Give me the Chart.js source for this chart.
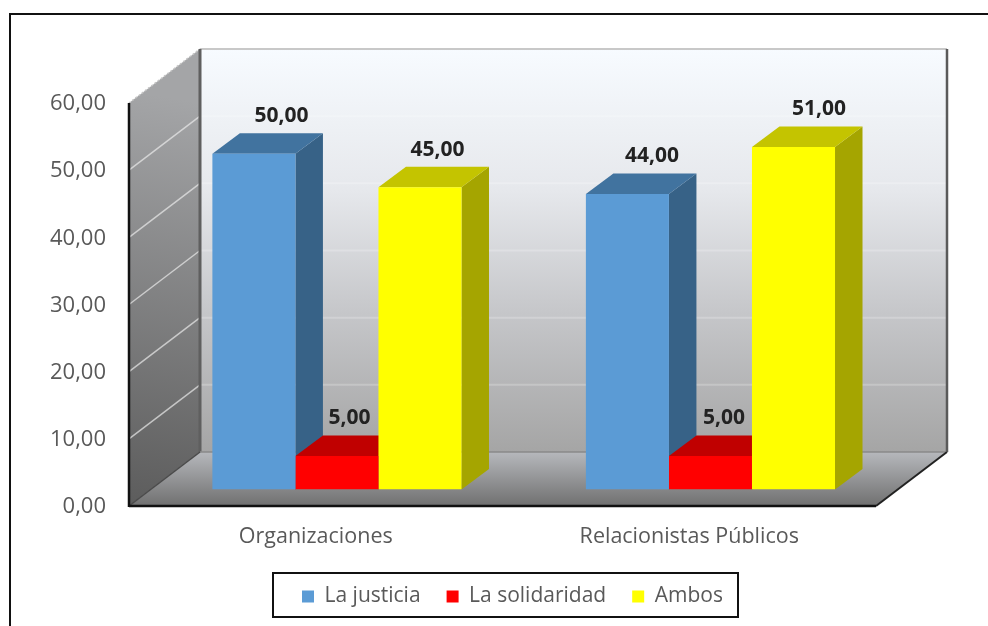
<!DOCTYPE html>
<html>
    <head>
        <meta charset="utf-8">
        <title>La justicia y la solidaridad</title>
        <style>
            html, body { margin: 0; padding: 0; background: #fff; }
            canvas { display: block; }
        </style>
    </head>
    <body>
        <canvas id="barChart" width="988" height="626"></canvas>
        <script src="https://cdn.jsdelivr.net/npm/chart.js"></script>
        <script>
            const categories = ['Organizaciones', 'Relacionistas Públicos'];
            const justicia = [50, 44];
            const solidaridad = [5, 5];
            const ambos = [45, 51];
            const yMax = 60;
            const yStep = 10;

            // depth of the fake 3D box, in pixels
            const wallDx = 71, wallDy = -54;
            const barShiftX = 21.2, barShiftY = -16.5;
            const barDx = 27.5, barDy = -20.5;
            const fontName = '"Open Sans", sans-serif';

            const sideColors = ['#376287', '#a00000', '#a5a500'];
            const topColors = ['#41739f', '#c00000', '#c4c400'];
            // small label corrections seen in the picture, per series then per category
            const labelNudge = [[0, -3], [-15, -14], [-10, -2]];

            const comma = v => Number(v).toFixed(2).replace('.', ',');

            function poly(ctx, pts, fill) {
                ctx.beginPath();
                pts.forEach((p, i) => i ? ctx.lineTo(p[0], p[1]) : ctx.moveTo(p[0], p[1]));
                ctx.closePath();
                ctx.fillStyle = fill;
                ctx.fill();
            }

            function line(ctx, x1, y1, x2, y2, color, width) {
                ctx.beginPath();
                ctx.moveTo(x1, y1);
                ctx.lineTo(x2, y2);
                ctx.strokeStyle = color;
                ctx.lineWidth = width;
                ctx.stroke();
            }

            const box3d = {
                id: 'box3d',
                afterLayout(chart) {
                    // the legend sits in its own frame, not centred on the canvas
                    const l = chart.legend;
                    l.left = 302 - l.options.labels.padding;
                    l.right = 988;
                    l.top = 573 + 13 - l.options.labels.padding;
                },
                beforeDatasetsDraw(chart) {
                    const { ctx, chartArea: a, scales: { y } } = chart;
                    const y0 = y.getPixelForValue(0), yTop = y.getPixelForValue(yMax);

                    ctx.save();
                    // back wall
                    let g = ctx.createLinearGradient(0, yTop + wallDy, 0, y0 + wallDy);
                    g.addColorStop(0, '#f7fbff');
                    g.addColorStop(0.35, '#e6e8ec');
                    g.addColorStop(0.65, '#c6c7ca');
                    g.addColorStop(1, '#a5a5a5');
                    ctx.fillStyle = g;
                    ctx.fillRect(a.left + wallDx, yTop + wallDy, a.right - a.left, y0 - yTop);

                    // left wall
                    g = ctx.createLinearGradient(a.left + wallDx, yTop, a.left, y0);
                    g.addColorStop(0, '#a4a5a7');
                    g.addColorStop(1, '#5c5c5c');
                    poly(ctx, [[a.left, yTop], [a.left + wallDx, yTop + wallDy],
                        [a.left + wallDx, y0 + wallDy], [a.left, y0]], g);

                    // floor
                    g = ctx.createLinearGradient(0, y0 + wallDy, 0, y0);
                    g.addColorStop(0, '#b6b8bc');
                    g.addColorStop(1, '#707070');
                    poly(ctx, [[a.left, y0], [a.left + wallDx, y0 + wallDy],
                        [a.right + wallDx, y0 + wallDy], [a.right, y0]], g);

                    // gridlines on the two walls
                    for (let v = yStep; v < yMax; v += yStep) {
                        const py = y.getPixelForValue(v);
                        line(ctx, a.left, py, a.left + wallDx, py + wallDy, 'rgba(235,235,235,0.7)', 1.5);
                        line(ctx, a.left + wallDx, py + wallDy, a.right + wallDx, py + wallDy, 'rgba(255,255,255,0.22)', 2);
                    }
                    line(ctx, a.left + wallDx, yTop + wallDy, a.right + wallDx, yTop + wallDy, '#c8c8c8', 2);
                    ctx.setLineDash([2, 2]);
                    line(ctx, a.left, yTop, a.left + wallDx, yTop + wallDy, '#c4c4c4', 1.5);
                    ctx.setLineDash([]);

                    // box edges
                    line(ctx, a.left + wallDx, yTop + wallDy, a.left + wallDx, y0 + wallDy, '#5f5f5f', 3);
                    line(ctx, a.right + wallDx, yTop + wallDy, a.right + wallDx, y0 + wallDy, '#5a5a5a', 2.5);
                    line(ctx, a.left + wallDx, y0 + wallDy, a.right + wallDx, y0 + wallDy, '#8a8a8a', 1.5);
                    line(ctx, a.left, y0, a.left + wallDx, y0 + wallDy, '#4a4a4a', 1.5);
                    line(ctx, a.right, y0, a.right + wallDx, y0 + wallDy, '#222', 2);
                    line(ctx, a.left, yTop, a.left, y0 + 1, '#111', 2.5);
                    line(ctx, a.left, y0, a.right, y0, '#111', 2.5);

                    // sides and tops of the bars, left to right
                    chart.data.datasets.forEach((ds, d) => {
                        chart.getDatasetMeta(d).data.forEach(bar => {
                            const { x, y: by, base, width } = bar.getProps(['x', 'y', 'base', 'width'], true);
                            const r = x + width / 2 + barShiftX, l = x - width / 2 + barShiftX;
                            const t = by + barShiftY, b = base + barShiftY;
                            poly(ctx, [[r, t], [r + barDx, t + barDy], [r + barDx, b + barDy], [r, b]], sideColors[d]);
                            poly(ctx, [[l, t], [l + barDx, t + barDy], [r + barDx, t + barDy], [r, t]], topColors[d]);
                        });
                    });
                    ctx.restore();

                    // the library draws the front faces, moved back into the box
                    ctx.save();
                    ctx.translate(barShiftX, barShiftY);
                },
                afterDatasetsDraw(chart) {
                    const { ctx } = chart;
                    ctx.restore();

                    ctx.save();
                    ctx.font = '700 21px ' + fontName;
                    ctx.fillStyle = '#222';
                    ctx.textAlign = 'center';
                    ctx.textBaseline = 'middle';
                    chart.data.datasets.forEach((ds, d) => {
                        chart.getDatasetMeta(d).data.forEach((bar, i) => {
                            const { x, y: by } = bar.getProps(['x', 'y'], true);
                            ctx.fillText(comma(ds.data[i]),
                                x + barShiftX + barDx + labelNudge[d][i],
                                by + barShiftY + barDy - 17);
                        });
                    });
                    ctx.restore();
                },
                afterDraw(chart) {
                    const { ctx } = chart;
                    ctx.save();
                    // outer frame runs off the right and bottom of the picture
                    ctx.strokeStyle = '#111';
                    ctx.lineWidth = 2;
                    ctx.beginPath();
                    ctx.moveTo(10, 626);
                    ctx.lineTo(10, 14);
                    ctx.lineTo(988, 14);
                    ctx.stroke();
                    // legend frame
                    ctx.strokeRect(273, 573, 465, 44);
                    ctx.restore();
                }
            };

            new Chart(document.getElementById('barChart'), {
                type: 'bar',
                data: {
                    labels: categories,
                    datasets: [
                        { label: 'La justicia', data: justicia, backgroundColor: '#5b9bd5' },
                        { label: 'La solidaridad', data: solidaridad, backgroundColor: '#ff0000' },
                        { label: 'Ambos', data: ambos, backgroundColor: '#ffff00' }
                    ]
                },
                options: {
                    responsive: false,
                    animation: false,
                    layout: { padding: { left: 0, right: 112, top: 103, bottom: 0 } },
                    datasets: { bar: { categoryPercentage: 0.667, barPercentage: 1 } },
                    scales: {
                        x: {
                            grid: { display: false },
                            border: { display: false },
                            ticks: { color: '#595959', padding: 10, font: { family: fontName, size: 21.5 }, maxRotation: 0 },
                            afterFit(scale) { scale.height = 120 - scale.chart.legend.height; }
                        },
                        y: {
                            min: 0,
                            max: yMax,
                            grid: { display: false },
                            border: { display: false },
                            ticks: {
                                stepSize: yStep,
                                color: '#595959',
                                padding: 15,
                                labelOffset: 1,
                                font: { family: fontName, size: 22 },
                                callback: v => comma(v)
                            },
                            afterFit(scale) { scale.width = 129; }
                        }
                    },
                    plugins: {
                        tooltip: { enabled: false },
                        legend: {
                            position: 'bottom',
                            align: 'start',
                            labels: {
                                boxWidth: 12,
                                boxHeight: 12,
                                padding: 26,
                                color: '#595959',
                                font: { family: fontName, size: 21 }
                            }
                        }
                    }
                },
                plugins: [box3d]
            });
        </script>
    </body>
</html>
